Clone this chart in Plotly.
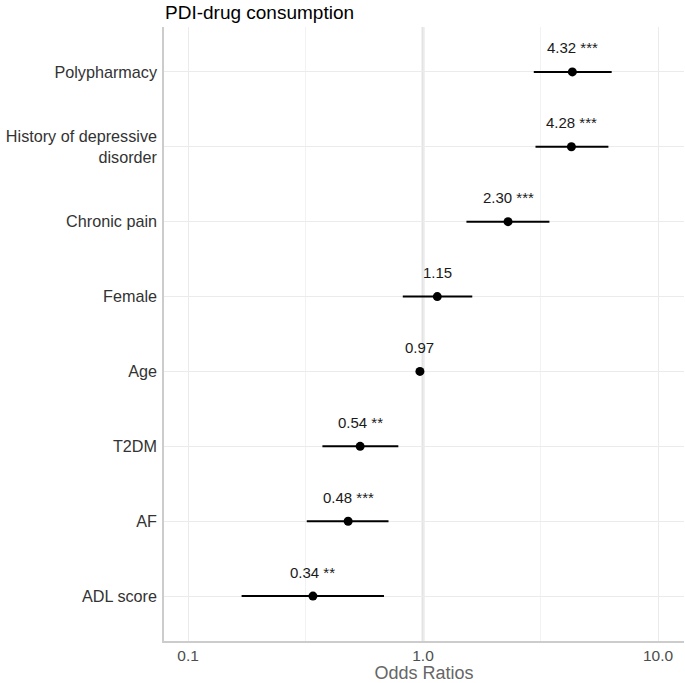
import numpy as np
import plotly.graph_objects as go

categories = ["Polypharmacy", "History of depressive<br>disorder", "Chronic pain", "Female",
              "Age", "T2DM", "AF", "ADL score"]
odds = [4.32, 4.28, 2.30, 1.15, 0.97, 0.54, 0.48, 0.34]
ci_low = [2.96, 3.01, 1.53, 0.82, 0.95, 0.373, 0.32, 0.169]
ci_high = [6.35, 6.15, 3.45, 1.62, 0.99, 0.785, 0.713, 0.682]
stars = ["***", "***", "***", "", "", "**", "***", "**"]
tick_vals = [0.1, 1.0, 10.0]
tick_text = ["0.1", "1.0", "10.0"]

order = categories[::-1]

fig = go.Figure()
fig.add_trace(go.Scatter(
    x=odds, y=categories, mode="markers",
    marker=dict(color="black", size=9),
    error_x=dict(type="data", symmetric=False,
                 array=[h - o for h, o in zip(ci_high, odds)],
                 arrayminus=[o - l for o, l in zip(odds, ci_low)],
                 color="black", thickness=2, width=0),
    showlegend=False, hoverinfo="skip"))

for o, c, s in zip(odds, categories, stars):
    fig.add_annotation(x=np.log10(o), y=c, text=f"{o:.2f} {s}".strip(), showarrow=False,
                       yshift=24, font=dict(size=15, color="#1a1a1a"))

fig.add_vline(x=1.0, line=dict(color="#e3e3e3", width=3), layer="below")

fig.update_layout(
    width=685, height=683,
    margin=dict(l=164, r=1, t=27, b=42, autoexpand=False),
    plot_bgcolor="white", paper_bgcolor="white",
    font=dict(family="Liberation Sans, Arial, sans-serif"),
    title=dict(text="PDI-drug consumption", x=0, xref="paper", xanchor="left",
               y=1 - 12 / 683, yref="container", yanchor="middle", pad=dict(l=1),
               font=dict(size=19, color="#000000")),
)
fig.update_xaxes(type="log", range=[np.log10(0.079), np.log10(12.9)],
                 tickvals=tick_vals, ticktext=tick_text,
                 tickfont=dict(size=15.5, color="#4d4d4d"),
                 showgrid=True, gridcolor="#ebebeb", gridwidth=1.2,
                 minor=dict(tickvals=[0.316, 3.16], showgrid=True, gridcolor="#f2f2f2", gridwidth=1),
                 showline=True, linecolor="#cccccc", linewidth=1.5,
                 ticks="", zeroline=False, automargin=False,
                 title=dict(text="Odds Ratios", font=dict(size=18, color="#666666"), standoff=6))
fig.update_yaxes(type="category", categoryorder="array", categoryarray=order,
                 range=[-0.6, 7.6],
                 tickfont=dict(size=16.2, color="#333333"),
                 showgrid=True, gridcolor="#ebebeb", gridwidth=1.2,
                 showline=True, linecolor="#cccccc", linewidth=1.5,
                 ticks="", ticklabelstandoff=2, automargin=False)

fig.write_html("out.html", config={"displayModeBar": False},
               post_script="document.body.style.margin='0';")
